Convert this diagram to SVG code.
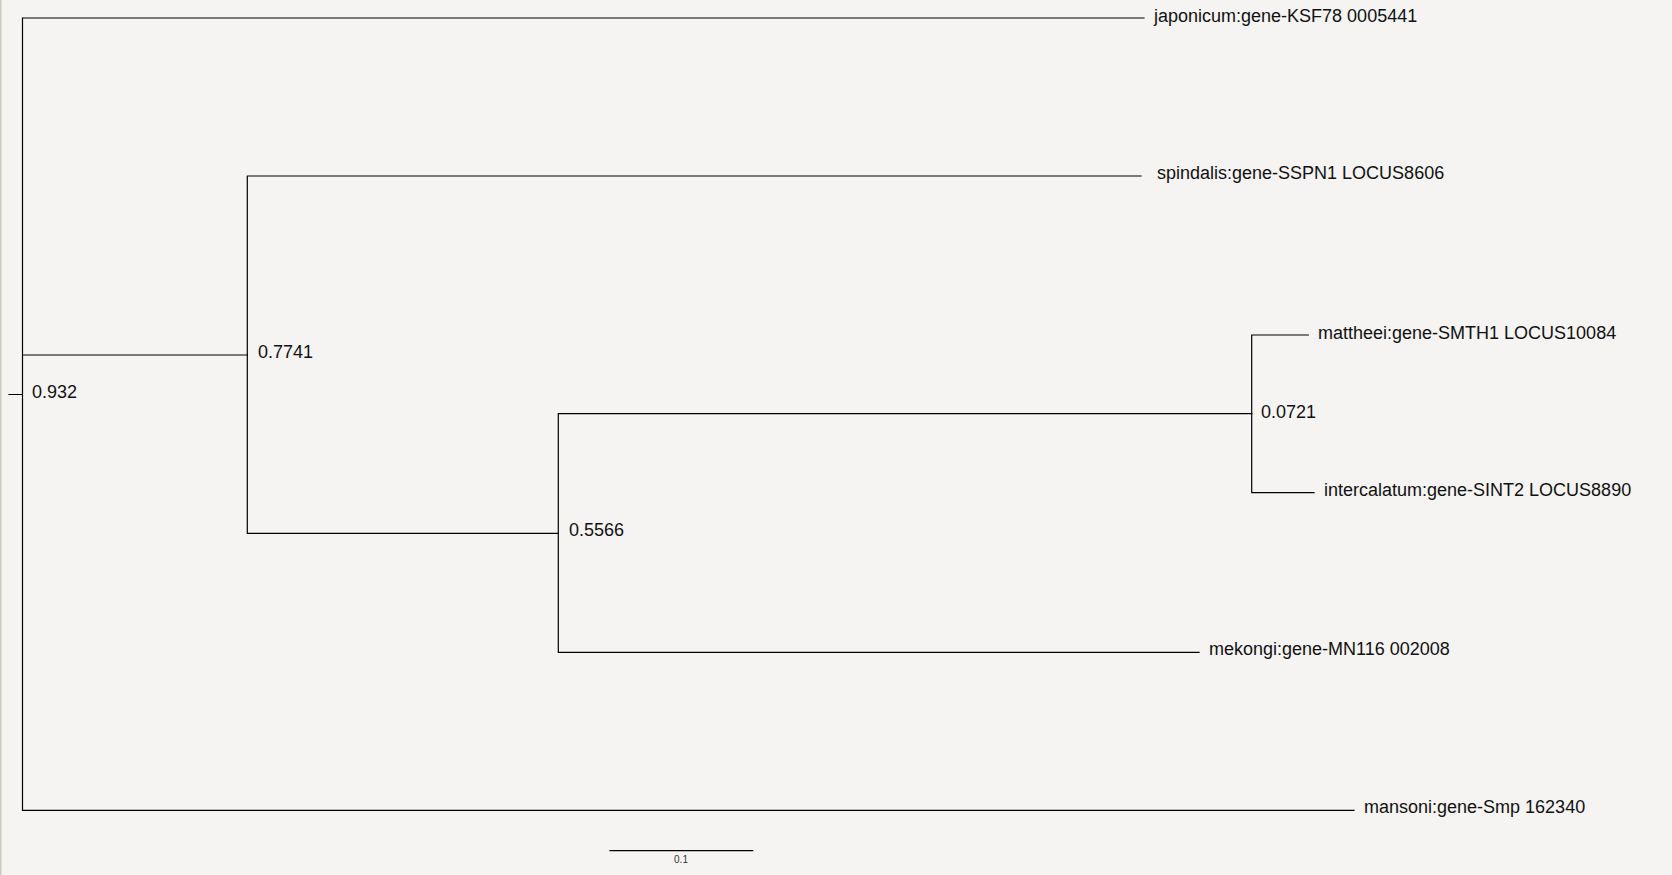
<svg xmlns="http://www.w3.org/2000/svg" width="1672" height="875" viewBox="0 0 1672 875">
<style>
.br{stroke:#000;stroke-width:1.2;fill:none;stroke-linecap:square}
.lb{font-family:"Liberation Sans",Arial,sans-serif;font-size:18px;fill:#111}
.sc{font-family:"Liberation Sans",Arial,sans-serif;font-size:10px;fill:#333;text-anchor:middle}
</style>
<rect x="0" y="0" width="1672" height="875" fill="#f5f4f2"/>
<rect x="0" y="0" width="1.5" height="875" fill="#cdc8c1"/>
<g id="connectors">
<path class="br" d="M9 394.5H22.5M22.5 18V810.3M22.5 18H1144M22.5 355H247.3M22.5 810.3H1354"/>
<path class="br" d="M247.3 176V533.3M247.3 176H1141M247.3 533.3H558.3"/>
<path class="br" d="M558.3 413.7V652.3M558.3 413.7H1251.7M558.3 652.3H1199"/>
<path class="br" d="M1251.7 335V492.7M1251.7 335H1308.3M1251.7 492.7H1314"/>
<path class="br" d="M610 850.7H752.7"/>
</g>
<g id="node-root"><text class="lb" x="32" y="398">0.932</text></g>
<g id="node-n1"><text class="lb" x="258" y="358">0.7741</text></g>
<g id="node-n2"><text class="lb" x="569" y="536">0.5566</text></g>
<g id="node-n3"><text class="lb" x="1261" y="418">0.0721</text></g>
<g id="leaf-japonicum"><text class="lb" x="1154" y="22">japonicum:gene-KSF78 0005441</text></g>
<g id="leaf-spindalis"><text class="lb" x="1157" y="179">spindalis:gene-SSPN1 LOCUS8606</text></g>
<g id="leaf-mattheei"><text class="lb" x="1318" y="339">mattheei:gene-SMTH1 LOCUS10084</text></g>
<g id="leaf-intercalatum"><text class="lb" x="1324" y="496">intercalatum:gene-SINT2 LOCUS8890</text></g>
<g id="leaf-mekongi"><text class="lb" x="1209" y="655">mekongi:gene-MN116 002008</text></g>
<g id="leaf-mansoni"><text class="lb" x="1364" y="813">mansoni:gene-Smp 162340</text></g>
<g id="scale"><text class="sc" x="681" y="863">0.1</text></g>
</svg>
